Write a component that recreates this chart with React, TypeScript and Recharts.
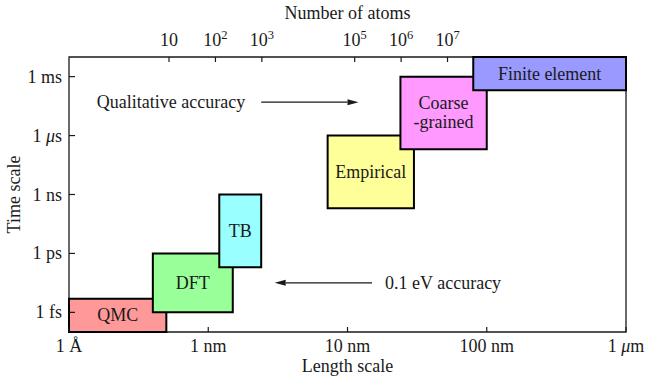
import { ComposedChart, XAxis, YAxis, Line, ReferenceArea, ReferenceLine, Label } from "recharts";

const FONT = "'Liberation Serif', 'Times New Roman', serif";
const INK = "#1a1a1a";
const FS = 18;

// length axis (nm)
const lengthTicks = [0.1, 1, 10, 100, 1000];
const lengthLabels = ["1 Å", "1 nm", "10 nm", "100 nm", "1 μm"];

// time axis (s)
const timeTicks = [1e-15, 1e-12, 1e-9, 1e-6, 1e-3];
const timeLabels = ["1 fs", "1 ps", "1 ns", "1 μs", "1 ms"];

// atom count along the top, roughly 70 atoms per nm^3
const ATOMS_PER_NM3 = 70;
const atomTicks = [10, 100, 1000, 1e5, 1e6, 1e7];

// simulation methods: extent in length (nm) and time (s)
const methodNames = ["QMC", "DFT", "TB", "Empirical", "Coarse\n-grained", "Finite element"];
const lengthFrom = [0.1, 0.4, 1.2, 7.2, 24, 80];
const lengthTo = [0.5, 1.5, 2.4, 30, 100, 1000];
const timeFrom = [1e-16, 1e-15, 2e-13, 2e-10, 2e-7, 2e-4];
const timeTo = [5e-15, 1e-12, 1e-9, 1e-6, 1e-3, 1e-2];
const methodColors = ["#ff9999", "#99ff99", "#99ffff", "#ffff99", "#ff99ff", "#9999ff"];

// annotation arrows
const arrowText = ["Qualitative accuracy", "0.1 eV accuracy"];
const arrowFrom = [2.4, 15];
const arrowTo = [12, 3];
const arrowTime = [5e-5, 3.2e-14];

const LEN_DOMAIN: [number, number] = [0.1, 1000];
const TIME_DOMAIN: [number, number] = [1e-16, 1e-2];
const ATOM_DOMAIN: [number, number] = [ATOMS_PER_NM3 * LEN_DOMAIN[0] ** 3, ATOMS_PER_NM3 * LEN_DOMAIN[1] ** 3];

const chartData = methodNames.map((name, i) => ({
  name,
  length: lengthFrom[i],
  atoms: ATOMS_PER_NM3 * lengthFrom[i] ** 3,
  time: timeFrom[i],
}));

function UnitText({ text }: { text: string }) {
  const [num, unit] = text.split(" ");
  if (unit.startsWith("μ")) {
    return (
      <>
        {num}{" "}
        <tspan fontStyle="italic">μ</tspan>
        {unit.slice(1)}
      </>
    );
  }
  return <>{text}</>;
}

function LeftTick({ x, y, payload }: any) {
  const i = timeTicks.indexOf(payload.value);
  return (
    <g>
      <line x1={x} x2={x + 6} y1={y} y2={y} stroke={INK} strokeWidth={1.2} />
      <text x={x - 7} y={y} textAnchor="end" dominantBaseline="central" fontFamily={FONT} fontSize={FS} fill={INK}>
        <UnitText text={timeLabels[i] ?? ""} />
      </text>
    </g>
  );
}

function BottomTick({ x, y, payload }: any) {
  const i = lengthTicks.indexOf(payload.value);
  return (
    <g>
      <line x1={x} x2={x} y1={y} y2={y - 5} stroke={INK} strokeWidth={1.2} />
      <text x={x} y={y + 20} textAnchor="middle" fontFamily={FONT} fontSize={FS} fill={INK}>
        <UnitText text={lengthLabels[i] ?? ""} />
      </text>
    </g>
  );
}

function TopTick({ x, y, payload }: any) {
  const exp = Math.round(Math.log10(payload.value));
  return (
    <g>
      <line x1={x} x2={x} y1={y} y2={y + 5} stroke={INK} strokeWidth={1.2} />
      <text x={x} y={y - 11} textAnchor="middle" fontFamily={FONT} fontSize={FS} fill={INK}>
        10
        {exp > 1 && (
          <tspan dy={-7} fontSize={12.5}>
            {exp}
          </tspan>
        )}
      </text>
    </g>
  );
}

function BoxLabel(props: any, text: string) {
  const vb = props.viewBox;
  if (!vb) return null;
  const cx = vb.x + vb.width / 2;
  const cy = vb.y + vb.height / 2;
  const lines = text.split("\n");
  const lh = 19;
  return (
    <text textAnchor="middle" fontFamily={FONT} fontSize={FS} fill={INK}>
      {lines.map((l, k) => (
        <tspan key={k} x={cx} y={cy + (k - (lines.length - 1) / 2) * lh} dominantBaseline="central">
          {l}
        </tspan>
      ))}
    </text>
  );
}

function arrowShape(text: string, textLeft: boolean) {
  return (p: any) => {
    const { x1, y1, x2, y2 } = p;
    const dir = Math.sign(x2 - x1);
    const head = 11;
    const w = 3;
    return (
      <g>
        <line x1={x1} y1={y1} x2={x2 - dir * head} y2={y2} stroke={INK} strokeWidth={1.2} />
        <polygon points={`${x2},${y2} ${x2 - dir * head},${y2 - w} ${x2 - dir * head},${y2 + w}`} fill={INK} />
        <text
          x={textLeft ? x1 - 16 : x1 + 13}
          y={y1}
          textAnchor={textLeft ? "end" : "start"}
          dominantBaseline="central"
          fontFamily={FONT}
          fontSize={FS}
          fill={INK}
        >
          {text}
        </text>
      </g>
    );
  };
}

export default function App() {
  return (
    <div style={{ position: "absolute", left: 0, top: 0, background: "#fff" }}>
      <ComposedChart width={646} height={381} data={chartData} margin={{ top: 0, right: 20, bottom: 0, left: 0 }}>
        <XAxis
          dataKey="length"
          type="number"
          scale="log"
          domain={LEN_DOMAIN}
          ticks={lengthTicks}
          allowDataOverflow
          height={49}
          axisLine={false}
          tickLine={false}
          tickSize={0}
          tickMargin={0}
          tick={<BottomTick />}
          interval={0}
        >
          <Label
            content={(p: any) => (
              <text
                x={p.viewBox.x + p.viewBox.width / 2}
                y={p.viewBox.y + 40}
                textAnchor="middle"
                fontFamily={FONT}
                fontSize={FS}
                fill={INK}
              >
                Length scale
              </text>
            )}
          />
        </XAxis>
        <XAxis
          xAxisId="atoms"
          dataKey="atoms"
          orientation="top"
          type="number"
          scale="log"
          domain={ATOM_DOMAIN}
          ticks={atomTicks}
          allowDataOverflow
          height={57}
          axisLine={false}
          tickLine={false}
          tickSize={0}
          tickMargin={0}
          tick={<TopTick />}
          interval={0}
        >
          <Label
            content={(p: any) => (
              <text
                x={p.viewBox.x + p.viewBox.width / 2}
                y={19}
                textAnchor="middle"
                fontFamily={FONT}
                fontSize={FS}
                fill={INK}
              >
                Number of atoms
              </text>
            )}
          />
        </XAxis>
        <YAxis
          dataKey="time"
          type="number"
          scale="log"
          domain={TIME_DOMAIN}
          ticks={timeTicks}
          allowDataOverflow
          width={69}
          axisLine={false}
          tickLine={false}
          tickSize={0}
          tickMargin={0}
          tick={<LeftTick />}
          interval={0}
        >
          <Label
            content={(p: any) => {
              const cy = p.viewBox.y + p.viewBox.height / 2;
              return (
                <text
                  x={14}
                  y={cy}
                  transform={`rotate(-90 14 ${cy})`}
                  textAnchor="middle"
                  dominantBaseline="central"
                  fontFamily={FONT}
                  fontSize={FS}
                  fill={INK}
                >
                  Time scale
                </text>
              );
            }}
          />
        </YAxis>

        {/* invisible series so the atom-count axis gets laid out */}
        <Line xAxisId="atoms" dataKey="time" stroke="none" dot={false} activeDot={false} isAnimationActive={false} />

        {/* plot frame */}
        <ReferenceArea
          x1={LEN_DOMAIN[0]}
          x2={LEN_DOMAIN[1]}
          y1={TIME_DOMAIN[0]}
          y2={TIME_DOMAIN[1]}
          fill="none"
          fillOpacity={0}
          stroke={INK}
          strokeWidth={1.3}
          ifOverflow="visible"
        />

        {methodNames.map((name, i) => (
          <ReferenceArea
            key={name}
            x1={lengthFrom[i]}
            x2={lengthTo[i]}
            y1={timeFrom[i]}
            y2={timeTo[i]}
            fill={methodColors[i]}
            fillOpacity={1}
            stroke="#000"
            strokeWidth={2}
            ifOverflow="visible"
            label={(p: any) => BoxLabel(p, name)}
          />
        ))}

        {arrowText.map((t, i) => (
          <ReferenceLine
            key={t}
            segment={[
              { x: arrowFrom[i], y: arrowTime[i] },
              { x: arrowTo[i], y: arrowTime[i] },
            ]}
            ifOverflow="visible"
            shape={arrowShape(t, arrowTo[i] > arrowFrom[i])}
          />
        ))}
      </ComposedChart>
    </div>
  );
}
